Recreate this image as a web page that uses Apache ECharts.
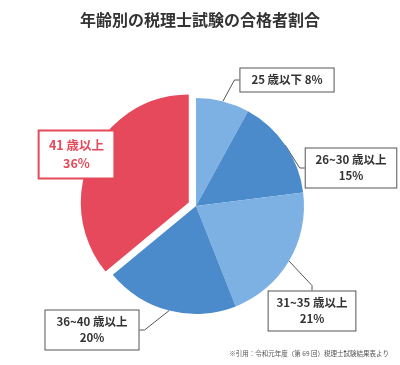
<!DOCTYPE html>
<html><head><meta charset="utf-8">
<script src="https://cdn.jsdelivr.net/npm/echarts@6/dist/echarts.min.js"></script>
<style>html,body{margin:0;padding:0;background:#fff}#c{width:400px;height:365px}</style>
</head><body><div id="c"></div>
<script>
const categories = ['25 歳以下', '26~30 歳以上', '31~35 歳以上', '36~40 歳以上', '41 歳以上'];
const values = [8, 15, 21, 20, 36];
const colors = ['#7db1e3', '#4b8bcb', '#7db1e3', '#4b8bcb', '#e5495b'];
const labelCenters = [[287, 80], [351, 168], [312, 311], [92, 330], [43, 146]];
const titleText = '年齢別の税理士試験の合格者割合';
const sourceText = '※引用：令和元年度（第 69 回）税理士試験結果表より';

const font = '"Noto Sans CJK JP", "Noto Sans", sans-serif';
const chart = echarts.init(document.getElementById('c'), null, {renderer: 'canvas'});
const data = categories.map((c, i) => {
  const isRed = i === 4;
  return {
    name: c, value: values[i], selected: isRed,
    itemStyle: {color: colors[i]},
    label: isRed ? {color: '#e5495b', borderColor: '#e5495b', borderWidth: 2, fontSize: 12.5, lineHeight: 18, padding: [6, 9, 4, 9]} : {},
    labelLine: isRed ? {lineStyle: {color: '#e5495b', width: 2}} : {}
  };
});
chart.setOption({
  animation: false,
  title: [{
    text: titleText, left: 'center', top: 7,
    textStyle: {fontFamily: font, fontSize: 16, fontWeight: 'bold', color: '#333'}
  }, {
    text: sourceText, right: 6, bottom: 3,
    textStyle: {fontFamily: font, fontSize: 6.5, fontWeight: 'normal', color: '#555'}
  }],
  series: [{
    type: 'pie',
    center: [196, 206],
    radius: [0, 108],
    startAngle: 90,
    clockwise: true,
    selectedMode: 'single',
    selectedOffset: 8,
    data: data,
    label: {
      show: true, position: 'outside', overflow: 'none',
      formatter: (p) => p.dataIndex === 0 ? p.name + ' ' + p.value + '%' : p.name + '\n' + p.value + '%',
      fontFamily: font, fontSize: 11.5, fontWeight: 'bold', color: '#333', lineHeight: 16,
      align: 'center',
      backgroundColor: '#fff', borderColor: '#555', borderWidth: 1, padding: [4, 11, 3, 11]
    },
    labelLine: {show: true, length: 5, length2: 5, lineStyle: {color: '#555', width: 1}},
    labelLayout: (p) => ({x: labelCenters[p.dataIndex][0], y: labelCenters[p.dataIndex][1], align: 'center', verticalAlign: 'middle'}),
    emphasis: {disabled: true}
  }]
});
</script></body></html>
